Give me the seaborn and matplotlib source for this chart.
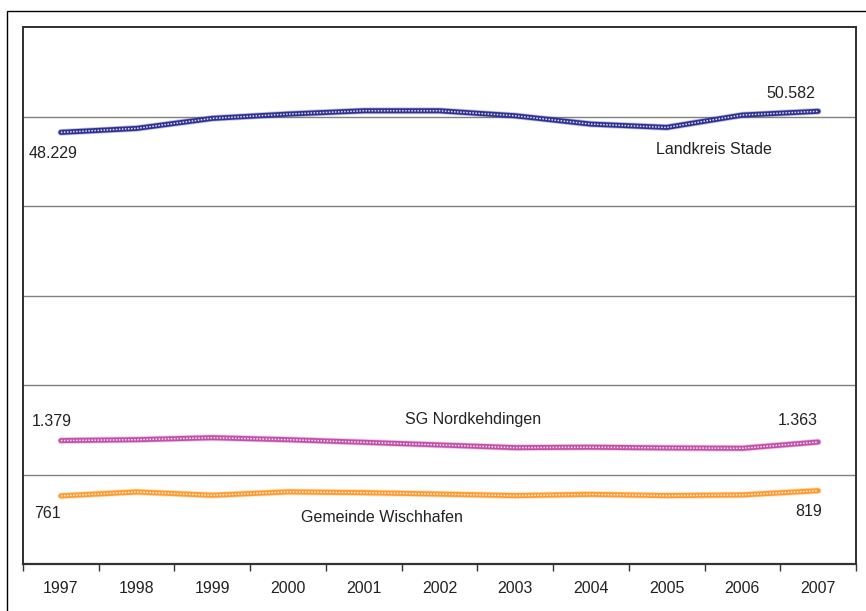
import matplotlib
matplotlib.use("Agg")
import matplotlib.pyplot as plt
from matplotlib.patches import Rectangle
from matplotlib.ticker import FixedLocator, NullFormatter, FixedFormatter
import seaborn as sns
import pandas as pd

# Entwicklung 1997-2007
years = [1997, 1998, 1999, 2000, 2001, 2002, 2003, 2004, 2005, 2006, 2007]
landkreis_stade = [48229, 48670, 49790, 50270, 50640, 50640, 50080, 49150, 48780, 50160, 50582]
sg_nordkehdingen = [1379, 1389, 1411, 1389, 1360, 1330, 1300, 1305, 1297, 1293, 1363]
gemeinde_wischhafen = [761, 805, 768, 806, 797, 781, 764, 778, 764, 772, 819]

series_names = ["Landkreis Stade", "SG Nordkehdingen", "Gemeinde Wischhafen"]
series_colors = ["#2e3192", "#c250a8", "#ff9a2e"]

sns.set_theme(style="white")
plt.rcParams["font.family"] = ["Liberation Sans", "DejaVu Sans"]
TEXT = "#222222"
FS = 11.5

fig = plt.figure(figsize=(8.66, 6.11), dpi=100)
W, H = 866, 611


def fig_box(l, t, r, b):
    return [l / W, 1 - b / H, (r - l) / W, (b - t) / H]


# outer chart border
fig.patches.append(Rectangle((7 / W, -0.05), 1.2, 1 - 11 / H + 0.05,
                             transform=fig.transFigure, fill=False,
                             edgecolor="#000000", linewidth=1.0))

ax = fig.add_axes(fig_box(23, 27, 856, 564))
ax2 = ax.twinx()

df = pd.DataFrame({"Jahr": years, "Landkreis": landkreis_stade,
                   "SG": sg_nordkehdingen, "Gemeinde": gemeinde_wischhafen})


def textured_line(axis, col, color):
    # soft halo, solid band, then a fine white checker on top
    sns.lineplot(data=df, x="Jahr", y=col, ax=axis, color=color,
                 linewidth=4.8, alpha=0.3, zorder=3)
    sns.lineplot(data=df, x="Jahr", y=col, ax=axis, color=color,
                 linewidth=3.6, zorder=3)
    sns.lineplot(data=df, x="Jahr", y=col, ax=axis, color="white",
                 linewidth=1.1, zorder=4)
    axis.lines[-1].set_dashes((1.0, 1.0))
    axis.lines[-1].set_alpha(0.85)


textured_line(ax, "Landkreis", series_colors[0])
textured_line(ax2, "SG", series_colors[1])
textured_line(ax2, "Gemeinde", series_colors[2])

for a in (ax, ax2):
    a.set_xlim(1996.5, 2007.5)
    a.set_xlabel("")
    a.set_ylabel("")

ax.set_ylim(0, 60000)
ax2.set_ylim(0, 6000)

# horizontal gridlines of the primary axis
ax.set_yticks([10000, 20000, 30000, 40000, 50000])
ax.yaxis.grid(True, color="#808080", linewidth=1.0)
ax.set_axisbelow(True)
ax.tick_params(axis="y", left=False, labelleft=False)
ax2.set_yticks([])
ax2.tick_params(axis="y", right=False, labelright=False)

# category boundaries carry the tick marks, labels sit between them
ax.xaxis.set_major_locator(FixedLocator([y - 0.5 for y in years] + [years[-1] + 0.5]))
ax.xaxis.set_major_formatter(NullFormatter())
ax.xaxis.set_minor_locator(FixedLocator(years))
ax.xaxis.set_minor_formatter(FixedFormatter([str(y) for y in years]))
ax.tick_params(axis="x", which="major", direction="out", length=5,
               width=1.0, color="#333333", bottom=True)
ax.tick_params(axis="x", which="minor", length=0, pad=12,
               labelsize=FS, labelcolor=TEXT, bottom=True)
ax2.tick_params(axis="x", which="both", bottom=False, labelbottom=False)

for a in (ax, ax2):
    for s in a.spines.values():
        s.set_visible(True)
        s.set_color("#333333")
        s.set_linewidth(1.3)
ax.spines["bottom"].set_linewidth(1.6)


def de(v):
    return f"{v:,}".replace(",", ".")


def value_label(axis, x, y, dx, dy):
    axis.annotate(de(y), xy=(x, y), xytext=(dx, dy), textcoords="offset pixels",
                  ha="center", va="center", fontsize=FS, color=TEXT, zorder=6)


value_label(ax, years[0], landkreis_stade[0], -8, -21)
value_label(ax, years[-1], landkreis_stade[-1], -27, 18)
value_label(ax2, years[0], sg_nordkehdingen[0], -9, 19)
value_label(ax2, years[-1], sg_nordkehdingen[-1], -20, 22)
value_label(ax2, years[0], gemeinde_wischhafen[0], -13, -18)
value_label(ax2, years[-1], gemeinde_wischhafen[-1], -10, -21)

name_pos = [(0.8295, 0.7710), (0.5402, 0.2700), (0.4310, 0.0875)]
for name, (tx, ty) in zip(series_names, name_pos):
    ax2.text(tx, ty, name, transform=ax2.transAxes, ha="center", va="center",
             fontsize=FS, color=TEXT, zorder=6)

fig.savefig("out.png", dpi=100)
